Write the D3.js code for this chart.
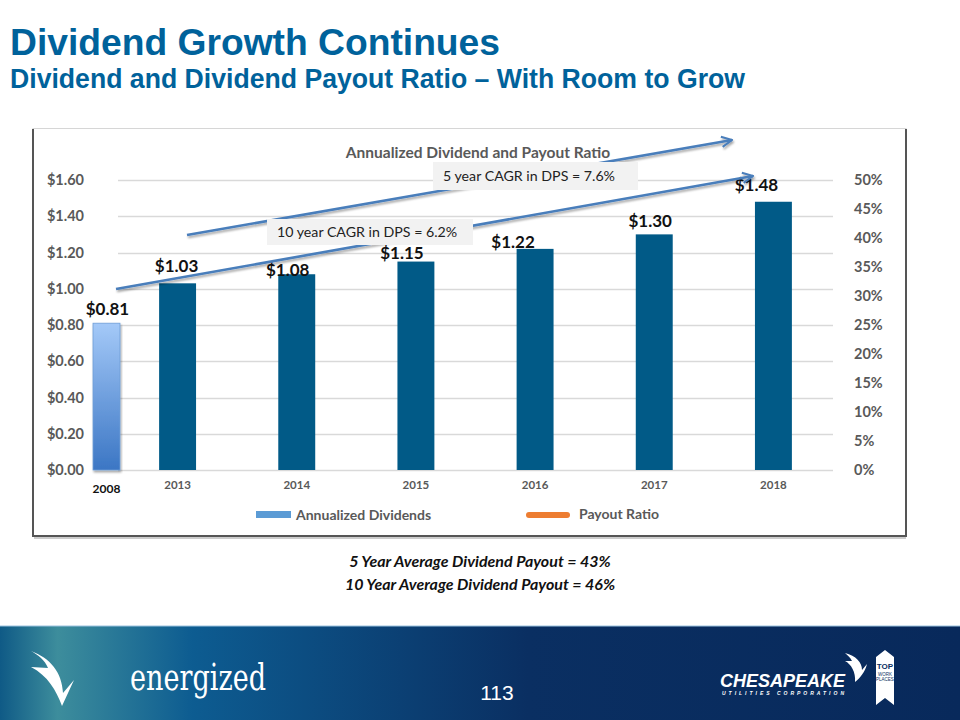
<!DOCTYPE html>
<html>
<head>
<meta charset="utf-8">
<script src="https://cdn.jsdelivr.net/npm/d3@7"></script>
<style>
html,body{margin:0;padding:0;background:#fff;}
svg{display:block;}
</style>
</head>
<body>
<svg id="chart" width="960" height="720"></svg>
<script>
// ---- data ----
const years = ["2013", "2014", "2015", "2016", "2017", "2018"];
const dividends = [1.03, 1.08, 1.15, 1.22, 1.30, 1.48];
const baseYear = "2008";
const baseDividend = 0.81;
const leftTicks = [0, 0.2, 0.4, 0.6, 0.8, 1.0, 1.2, 1.4, 1.6];
const rightTicks = [0, 0.05, 0.10, 0.15, 0.20, 0.25, 0.30, 0.35, 0.40, 0.45, 0.50];
const seriesNames = ["Annualized Dividends", "Payout Ratio"];
const cagrNotes = ["5 year CAGR in DPS = 7.6%", "10 year CAGR in DPS = 6.2%"];
const footNotes = ["5 Year Average Dividend Payout = 43%", "10 Year Average Dividend Payout = 46%"];

// ---- layout ----
const svg = d3.select("#chart");
const F = "Lato, 'Open Sans', sans-serif";
const plot = {left: 118, right: 833, top: 180, bottom: 470};

const x = d3.scaleBand().domain(years).range([plot.left, plot.right]).paddingInner(0.69).paddingOuter(0.345);
const y = d3.scaleLinear().domain([0, 1.6]).range([plot.bottom, plot.top]);
const yR = d3.scaleLinear().domain([0, 0.5]).range([plot.bottom, plot.top]);
const xBase = d3.scaleBand().domain([baseYear]).range([93, 120]);

const defs = svg.append("defs");
const g1 = defs.append("linearGradient").attr("id", "baseGrad").attr("x1", 0).attr("y1", 0).attr("x2", 0).attr("y2", 1);
g1.append("stop").attr("offset", "0%").attr("stop-color", "#a4c9f8");
g1.append("stop").attr("offset", "100%").attr("stop-color", "#3b76c4");
const g2 = defs.append("linearGradient").attr("id", "footGrad").attr("x1", 0).attr("y1", 0).attr("x2", 1).attr("y2", 0);
g2.append("stop").attr("offset", "0%").attr("stop-color", "#0f5a86");
g2.append("stop").attr("offset", "6%").attr("stop-color", "#3d8d9c");
g2.append("stop").attr("offset", "20%").attr("stop-color", "#0d5c91");
g2.append("stop").attr("offset", "55%").attr("stop-color", "#0a2f62");
g2.append("stop").attr("offset", "100%").attr("stop-color", "#08295b");
const sh = defs.append("filter").attr("id", "shadow").attr("x", "-10%").attr("y", "-50%").attr("width", "120%").attr("height", "200%");
sh.append("feDropShadow").attr("dx", 1).attr("dy", 2).attr("stdDeviation", 1.2).attr("flood-color", "#000").attr("flood-opacity", 0.35);
const mk = defs.append("marker").attr("id", "arrow").attr("viewBox", "0 0 10 10").attr("refX", 9).attr("refY", 5)
  .attr("markerWidth", 5).attr("markerHeight", 5).attr("markerUnits", "strokeWidth").attr("orient", "auto");
mk.append("path").attr("d", "M1,1 L9,5 L1,9").attr("fill", "none").attr("stroke", "#4a7ebb").attr("stroke-width", 1.6).attr("stroke-linejoin", "miter");

// ---- titles ----
svg.append("text").attr("x", 10).attr("y", 55).attr("font-family", "'Liberation Sans', Arial, sans-serif")
  .attr("font-weight", "bold").attr("font-size", 36).attr("fill", "#00629b")
  .attr("textLength", 490).attr("lengthAdjust", "spacingAndGlyphs").text("Dividend Growth Continues");
svg.append("text").attr("x", 10).attr("y", 88).attr("font-family", "'Liberation Sans', Arial, sans-serif")
  .attr("font-weight", "bold").attr("font-size", 27).attr("fill", "#00629b")
  .attr("textLength", 735).attr("lengthAdjust", "spacingAndGlyphs").text("Dividend and Dividend Payout Ratio – With Room to Grow");

// ---- chart frame ----
svg.append("rect").attr("x", 33).attr("y", 128.5).attr("width", 873).attr("height", 407.5)
  .attr("fill", "#fff").attr("stroke", "#d6d6d6").attr("stroke-width", 1);
svg.append("path").attr("d", "M33,129 V536 H906 V129").attr("fill", "none").attr("stroke", "#555").attr("stroke-width", 2);
svg.append("line").attr("x1", 34).attr("x2", 906).attr("y1", 538).attr("y2", 538).attr("stroke", "#bbb").attr("stroke-width", 1.5);

svg.append("text").attr("x", 478).attr("y", 158).attr("text-anchor", "middle").attr("font-family", F)
  .attr("font-weight", "bold").attr("font-size", 15.5).attr("fill", "#595959").text("Annualized Dividend and Payout Ratio");

// gridlines
svg.append("g").selectAll("line").data(leftTicks).join("line")
  .attr("x1", plot.left).attr("x2", plot.right).attr("y1", d => Math.round(y(d)) + 0.5).attr("y2", d => Math.round(y(d)) + 0.5)
  .attr("stroke", "#d9d9d9").attr("stroke-width", 1.5);

// left axis
const axL = svg.append("g").attr("transform", `translate(${plot.left - 34},0)`)
  .call(d3.axisLeft(y).tickValues(leftTicks).tickFormat(d => "$" + d3.format(".2f")(d)).tickSize(0).tickPadding(0));
axL.select(".domain").remove();
axL.selectAll("text").attr("font-family", F).attr("font-size", 14.5).attr("font-weight", "bold").attr("fill", "#595959");

// right axis
const axR = svg.append("g").attr("transform", `translate(${plot.right + 21},0)`)
  .call(d3.axisRight(yR).tickValues(rightTicks).tickFormat(d3.format(".0%")).tickSize(0).tickPadding(0));
axR.select(".domain").remove();
axR.selectAll("text").attr("font-family", F).attr("font-size", 14.5).attr("font-weight", "bold").attr("fill", "#595959");

// bottom axis
const axB = svg.append("g").attr("transform", `translate(0,${plot.bottom + 11})`)
  .call(d3.axisBottom(x).tickSize(0).tickPadding(0));
axB.select(".domain").remove();
axB.selectAll("text").attr("font-family", F).attr("font-size", 11.5).attr("font-weight", "bold").attr("fill", "#595959");

// bars
svg.append("g").selectAll("rect").data(dividends).join("rect")
  .attr("x", (d, i) => x(years[i])).attr("width", x.bandwidth())
  .attr("y", d => y(d)).attr("height", d => y(0) - y(d)).attr("fill", "#015a87");

// 2008 pasted bar
svg.append("rect").attr("x", xBase(baseYear)).attr("width", xBase.bandwidth())
  .attr("y", y(baseDividend)).attr("height", y(0) - y(baseDividend))
  .attr("fill", "url(#baseGrad)").attr("stroke", "#6f9fd8").attr("stroke-width", 0.8).attr("filter", "url(#shadow)");
svg.append("text").attr("x", xBase(baseYear) + xBase.bandwidth() / 2).attr("y", plot.bottom + 23)
  .attr("text-anchor", "middle").attr("font-family", F).attr("font-size", 12).attr("font-weight", "bold").attr("fill", "#111").text(baseYear);
svg.append("text").attr("x", xBase(baseYear) + xBase.bandwidth() / 2 + 1).attr("y", y(baseDividend) - 8)
  .attr("text-anchor", "middle").attr("font-family", F).attr("font-size", 17).attr("font-weight", "bold").attr("fill", "#111")
  .text("$" + d3.format(".2f")(baseDividend));

// value labels (manually placed in the original slide)
const labelDx = [-1, -9, -14, -22, -4, -17];
const labelDy = [-11, 2, -3, -1, -7, -11];
svg.append("g").selectAll("text").data(dividends).join("text")
  .attr("x", (d, i) => x(years[i]) + x.bandwidth() / 2 + labelDx[i])
  .attr("y", (d, i) => y(d) + labelDy[i])
  .attr("text-anchor", "middle").attr("font-family", F).attr("font-size", 17).attr("font-weight", "bold").attr("fill", "#111")
  .text(d => "$" + d3.format(".2f")(d));

// CAGR notes and arrows
function note(bx, by, bw, bh, txt, tx) {
  svg.append("rect").attr("x", bx).attr("y", by).attr("width", bw).attr("height", bh).attr("fill", "#f2f2f2");
  svg.append("text").attr("x", tx).attr("y", by + bh / 2 + 5).attr("font-family", F).attr("font-size", 14.2).attr("fill", "#222").text(txt);
}
function arrow(x1, y1, x2, y2) {
  svg.append("line").attr("x1", x1).attr("y1", y1).attr("x2", x2).attr("y2", y2)
    .attr("stroke", "#4a7ebb").attr("stroke-width", 2.6).attr("marker-end", "url(#arrow)").attr("filter", "url(#shadow)");
}
arrow(187, 235, 732, 140);
note(433, 162, 205, 28, cagrNotes[0], 443);
arrow(116, 289, 753, 176);
note(267, 219, 206, 26, cagrNotes[1], 277);

// legend
svg.append("rect").attr("x", 256).attr("y", 511).attr("width", 35).attr("height", 7).attr("fill", "#5b9bd5");
svg.append("text").attr("x", 296).attr("y", 520).attr("font-family", F).attr("font-size", 14).attr("font-weight", "bold").attr("fill", "#595959").text(seriesNames[0]);
svg.append("line").attr("x1", 529).attr("x2", 567).attr("y1", 515).attr("y2", 515).attr("stroke", "#ed7d31").attr("stroke-width", 6).attr("stroke-linecap", "round");
svg.append("text").attr("x", 579).attr("y", 519).attr("font-family", F).attr("font-size", 14).attr("font-weight", "bold").attr("fill", "#595959").text(seriesNames[1]);

// foot notes
footNotes.forEach((t, i) => {
  svg.append("text").attr("x", 480).attr("y", 567 + i * 23).attr("text-anchor", "middle").attr("font-family", F)
    .attr("font-size", 16).attr("font-weight", "bold").attr("font-style", "italic").attr("fill", "#111").text(t);
});

// ---- footer band ----
svg.append("rect").attr("x", 0).attr("y", 626).attr("width", 960).attr("height", 94).attr("fill", "url(#footGrad)");
svg.append("line").attr("x1", 0).attr("x2", 960).attr("y1", 626).attr("y2", 626).attr("stroke", "#9cc3df").attr("stroke-width", 1);
// bird logo (left)
svg.append("path").attr("d", "M31,651 C50,658 62,672 63,693 L74,680 L62,706 C56,690 48,676 31,667 L48,668 C45,660 38,655 31,651 Z")
  .attr("fill", "#fff");
svg.append("text").attr("x", 130).attr("y", 690).attr("font-family", "'DejaVu Serif', serif").attr("font-size", 38)
  .attr("fill", "#fff").attr("textLength", 136).attr("lengthAdjust", "spacingAndGlyphs").text("energized");
svg.append("text").attr("x", 497).attr("y", 700).attr("text-anchor", "middle").attr("font-family", "'Liberation Sans Narrow', 'Liberation Sans', sans-serif")
  .attr("font-size", 21).attr("fill", "#fff").text("113");
// Chesapeake logo (right)
svg.append("text").attr("x", 720).attr("y", 687).attr("font-family", "'Liberation Sans', Arial, sans-serif").attr("font-weight", "bold")
  .attr("font-style", "italic").attr("font-size", 18).attr("fill", "#fff").attr("textLength", 125).attr("lengthAdjust", "spacingAndGlyphs").text("CHESAPEAKE");
svg.append("text").attr("x", 722).attr("y", 691).attr("font-family", "'Liberation Sans', Arial, sans-serif").attr("font-weight", "bold")
  .attr("font-style", "italic").attr("font-size", 5).attr("fill", "#fff").attr("textLength", 122).attr("lengthAdjust", "spacing").attr("dy", 4).text("UTILITIES CORPORATION");
svg.append("path").attr("d", "M845,653 C856,656 862,662 862,670 L867,664 C865,672 860,678 855,682 C856,672 851,664 845,661 L852,661 C850,657 847,655 845,653 Z").attr("fill", "#fff");
svg.append("path").attr("d", "M876,657 L885,650 L894,657 L894,705 L885,698 L876,705 Z").attr("fill", "#fff");
svg.append("text").attr("x", 885).attr("y", 669).attr("text-anchor", "middle").attr("font-family", "'Liberation Sans', Arial, sans-serif")
  .attr("font-weight", "bold").attr("font-size", 8).attr("fill", "#0a2f62").text("TOP");
svg.append("text").attr("x", 885).attr("y", 676).attr("text-anchor", "middle").attr("font-family", "'Liberation Sans', Arial, sans-serif")
  .attr("font-size", 4.5).attr("fill", "#0a2f62").text("WORK");
svg.append("text").attr("x", 885).attr("y", 681).attr("text-anchor", "middle").attr("font-family", "'Liberation Sans', Arial, sans-serif")
  .attr("font-size", 4.5).attr("fill", "#0a2f62").text("PLACES");
</script>
</body>
</html>
